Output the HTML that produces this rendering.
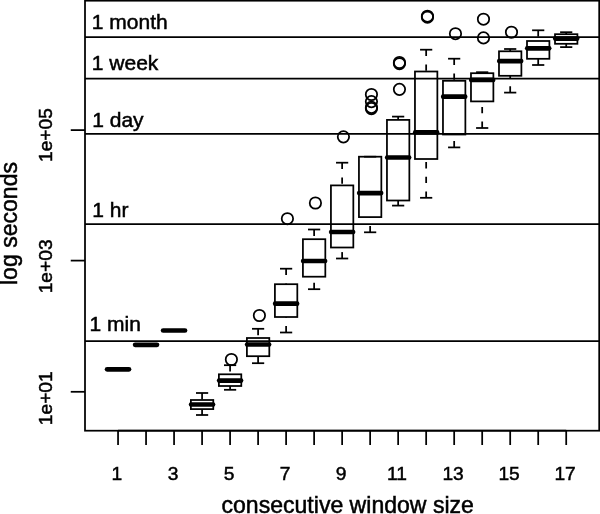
<!DOCTYPE html>
<html><head><meta charset="utf-8"><title>boxplot</title>
<style>html,body{margin:0;padding:0;background:#fff}svg{display:block}</style>
</head><body>
<svg width="600" height="514" viewBox="0 0 600 514">
<rect width="600" height="514" fill="#fff"/>
<g fill="none" stroke="#000" stroke-width="1.75" stroke-linecap="butt">
<rect x="85" y="0.7" width="514.2" height="430.0"/>
<line x1="85" y1="341.0" x2="599.2" y2="341.0"/>
<line x1="85" y1="224.2" x2="599.2" y2="224.2"/>
<line x1="85" y1="133.9" x2="599.2" y2="133.9"/>
<line x1="85" y1="78.5" x2="599.2" y2="78.5"/>
<line x1="85" y1="37.0" x2="599.2" y2="37.0"/>
<line x1="118.05" y1="430.7" x2="566.21" y2="430.7"/>
<line x1="118.05" y1="430.5" x2="118.05" y2="445"/>
<line x1="146.06" y1="430.5" x2="146.06" y2="445"/>
<line x1="174.07" y1="430.5" x2="174.07" y2="445"/>
<line x1="202.08" y1="430.5" x2="202.08" y2="445"/>
<line x1="230.09" y1="430.5" x2="230.09" y2="445"/>
<line x1="258.10" y1="430.5" x2="258.10" y2="445"/>
<line x1="286.11" y1="430.5" x2="286.11" y2="445"/>
<line x1="314.12" y1="430.5" x2="314.12" y2="445"/>
<line x1="342.13" y1="430.5" x2="342.13" y2="445"/>
<line x1="370.14" y1="430.5" x2="370.14" y2="445"/>
<line x1="398.15" y1="430.5" x2="398.15" y2="445"/>
<line x1="426.16" y1="430.5" x2="426.16" y2="445"/>
<line x1="454.17" y1="430.5" x2="454.17" y2="445"/>
<line x1="482.18" y1="430.5" x2="482.18" y2="445"/>
<line x1="510.19" y1="430.5" x2="510.19" y2="445"/>
<line x1="538.20" y1="430.5" x2="538.20" y2="445"/>
<line x1="566.21" y1="430.5" x2="566.21" y2="445"/>
<line x1="70.75" y1="130.1" x2="85" y2="130.1"/>
<line x1="70.75" y1="260.6" x2="85" y2="260.6"/>
<line x1="70.75" y1="391.8" x2="85" y2="391.8"/>
<rect x="190.88" y="400" width="22.4" height="9.100000000000023"/>
<line x1="202.08" y1="393" x2="202.08" y2="400" stroke-dasharray="6.4 8.3"/>
<line x1="202.08" y1="415" x2="202.08" y2="409.1" stroke-dasharray="6.4 8.3"/>
<line x1="195.98" y1="393" x2="208.18" y2="393"/>
<line x1="195.98" y1="415" x2="208.18" y2="415"/>
<rect x="218.89" y="374.3" width="22.4" height="11.699999999999989"/>
<line x1="230.09" y1="365.2" x2="230.09" y2="374.3" stroke-dasharray="6.4 8.3"/>
<line x1="230.09" y1="389.8" x2="230.09" y2="386.0" stroke-dasharray="6.4 8.3"/>
<line x1="223.99" y1="365.2" x2="236.19" y2="365.2"/>
<line x1="223.99" y1="389.8" x2="236.19" y2="389.8"/>
<circle cx="231.39" cy="359.5" r="5.7"/>
<rect x="246.90" y="338" width="22.4" height="18.19999999999999"/>
<line x1="258.10" y1="328.8" x2="258.10" y2="338" stroke-dasharray="6.4 8.3"/>
<line x1="258.10" y1="363.2" x2="258.10" y2="356.2" stroke-dasharray="6.4 8.3"/>
<line x1="252.00" y1="328.8" x2="264.20" y2="328.8"/>
<line x1="252.00" y1="363.2" x2="264.20" y2="363.2"/>
<circle cx="259.40" cy="315.5" r="5.7"/>
<rect x="274.91" y="284.2" width="22.4" height="32.80000000000001"/>
<line x1="286.11" y1="268.7" x2="286.11" y2="284.2" stroke-dasharray="6.4 8.3"/>
<line x1="286.11" y1="332.5" x2="286.11" y2="317" stroke-dasharray="6.4 8.3"/>
<line x1="280.01" y1="268.7" x2="292.21" y2="268.7"/>
<line x1="280.01" y1="332.5" x2="292.21" y2="332.5"/>
<circle cx="287.41" cy="218.7" r="5.7"/>
<rect x="302.92" y="239.2" width="22.4" height="37.5"/>
<line x1="314.12" y1="229.5" x2="314.12" y2="239.2" stroke-dasharray="6.4 8.3"/>
<line x1="314.12" y1="289.2" x2="314.12" y2="276.7" stroke-dasharray="6.4 8.3"/>
<line x1="308.02" y1="229.5" x2="320.22" y2="229.5"/>
<line x1="308.02" y1="289.2" x2="320.22" y2="289.2"/>
<circle cx="315.42" cy="203" r="5.7"/>
<rect x="330.93" y="185.4" width="22.4" height="62.099999999999994"/>
<line x1="342.13" y1="162.7" x2="342.13" y2="185.4" stroke-dasharray="6.4 8.3"/>
<line x1="342.13" y1="258.5" x2="342.13" y2="247.5" stroke-dasharray="6.4 8.3"/>
<line x1="336.03" y1="162.7" x2="348.23" y2="162.7"/>
<line x1="336.03" y1="258.5" x2="348.23" y2="258.5"/>
<circle cx="343.43" cy="136.8" r="5.7"/>
<rect x="358.94" y="156.7" width="22.4" height="60.400000000000006"/>
<line x1="370.14" y1="232.3" x2="370.14" y2="217.1" stroke-dasharray="6.4 8.3"/>
<line x1="364.04" y1="156.7" x2="376.24" y2="156.7"/>
<line x1="364.04" y1="232.3" x2="376.24" y2="232.3"/>
<circle cx="371.44" cy="94.5" r="5.7"/>
<circle cx="371.44" cy="101.6" r="5.7"/>
<circle cx="371.44" cy="107.4" r="5.7"/>
<circle cx="371.44" cy="108.6" r="5.7"/>
<rect x="386.95" y="119.9" width="22.4" height="80.6"/>
<line x1="398.15" y1="116.6" x2="398.15" y2="119.9" stroke-dasharray="6.4 8.3"/>
<line x1="398.15" y1="205.6" x2="398.15" y2="200.5" stroke-dasharray="6.4 8.3"/>
<line x1="392.05" y1="116.6" x2="404.25" y2="116.6"/>
<line x1="392.05" y1="205.6" x2="404.25" y2="205.6"/>
<circle cx="399.45" cy="62.5" r="5.7"/>
<circle cx="399.45" cy="63.7" r="5.7"/>
<circle cx="399.45" cy="89.3" r="5.7"/>
<rect x="414.96" y="71.5" width="22.4" height="87.5"/>
<line x1="426.16" y1="49.7" x2="426.16" y2="71.5" stroke-dasharray="6.4 8.3"/>
<line x1="426.16" y1="197.8" x2="426.16" y2="159.0" stroke-dasharray="6.4 8.3"/>
<line x1="420.06" y1="49.7" x2="432.26" y2="49.7"/>
<line x1="420.06" y1="197.8" x2="432.26" y2="197.8"/>
<circle cx="427.46" cy="16.2" r="5.7"/>
<circle cx="427.46" cy="17.2" r="5.7"/>
<rect x="442.97" y="80.8" width="22.4" height="53.7"/>
<line x1="454.17" y1="58.7" x2="454.17" y2="80.8" stroke-dasharray="6.4 8.3"/>
<line x1="454.17" y1="147.4" x2="454.17" y2="134.5" stroke-dasharray="6.4 8.3"/>
<line x1="448.07" y1="58.7" x2="460.27" y2="58.7"/>
<line x1="448.07" y1="147.4" x2="460.27" y2="147.4"/>
<circle cx="455.47" cy="33.7" r="5.7"/>
<rect x="470.98" y="73.2" width="22.4" height="28.200000000000003"/>
<line x1="482.18" y1="72.2" x2="482.18" y2="73.2" stroke-dasharray="6.4 8.3"/>
<line x1="482.18" y1="128" x2="482.18" y2="101.4" stroke-dasharray="6.4 8.3"/>
<line x1="476.08" y1="72.2" x2="488.28" y2="72.2"/>
<line x1="476.08" y1="128" x2="488.28" y2="128"/>
<circle cx="483.48" cy="19.2" r="5.7"/>
<circle cx="483.48" cy="37.9" r="5.7"/>
<rect x="498.99" y="51.3" width="22.4" height="24.5"/>
<line x1="510.19" y1="49" x2="510.19" y2="51.3" stroke-dasharray="6.4 8.3"/>
<line x1="510.19" y1="92.6" x2="510.19" y2="75.8" stroke-dasharray="6.4 8.3"/>
<line x1="504.09" y1="49" x2="516.29" y2="49"/>
<line x1="504.09" y1="92.6" x2="516.29" y2="92.6"/>
<circle cx="511.49" cy="32.2" r="5.7"/>
<rect x="527.00" y="41.0" width="22.4" height="17.799999999999997"/>
<line x1="538.20" y1="30.3" x2="538.20" y2="41.0" stroke-dasharray="6.4 8.3"/>
<line x1="538.20" y1="65.0" x2="538.20" y2="58.8" stroke-dasharray="6.4 8.3"/>
<line x1="532.10" y1="30.3" x2="544.30" y2="30.3"/>
<line x1="532.10" y1="65.0" x2="544.30" y2="65.0"/>
<rect x="555.01" y="34.2" width="22.4" height="9.599999999999994"/>
<line x1="566.21" y1="32.2" x2="566.21" y2="34.2" stroke-dasharray="6.4 8.3"/>
<line x1="566.21" y1="47.1" x2="566.21" y2="43.8" stroke-dasharray="6.4 8.3"/>
<line x1="560.11" y1="32.2" x2="572.31" y2="32.2"/>
<line x1="560.11" y1="47.1" x2="572.31" y2="47.1"/>
</g>
<g fill="none" stroke="#000" stroke-width="4.7" stroke-linecap="round">
<line x1="107.10" y1="369.3" x2="129.00" y2="369.3"/>
<line x1="135.11" y1="344.8" x2="157.01" y2="344.8"/>
<line x1="163.12" y1="330.5" x2="185.02" y2="330.5"/>
<line x1="191.13" y1="404.5" x2="213.03" y2="404.5"/>
<line x1="219.14" y1="380.6" x2="241.04" y2="380.6"/>
<line x1="247.15" y1="344.5" x2="269.05" y2="344.5"/>
<line x1="275.16" y1="303.7" x2="297.06" y2="303.7"/>
<line x1="303.17" y1="261" x2="325.07" y2="261"/>
<line x1="331.18" y1="232" x2="353.08" y2="232"/>
<line x1="359.19" y1="193.1" x2="381.09" y2="193.1"/>
<line x1="387.20" y1="157.5" x2="409.10" y2="157.5"/>
<line x1="415.21" y1="132.4" x2="437.11" y2="132.4"/>
<line x1="443.22" y1="96.7" x2="465.12" y2="96.7"/>
<line x1="471.23" y1="79.9" x2="493.13" y2="79.9"/>
<line x1="499.24" y1="61.1" x2="521.14" y2="61.1"/>
<line x1="527.25" y1="48.3" x2="549.15" y2="48.3"/>
<line x1="555.26" y1="38.6" x2="577.16" y2="38.6"/>
</g>
<g font-family="'Liberation Sans', Arial, Helvetica, sans-serif" fill="#000" stroke="#000" stroke-width="0.5" font-size="21">
<text x="89.5" y="331.3">1 min</text>
<text x="92.2" y="217.1">1 hr</text>
<text x="92.2" y="126.7">1 day</text>
<text x="91.8" y="70.4">1 week</text>
<text x="91.8" y="29.4">1 month</text>
</g>
<g font-family="'Liberation Sans', Arial, Helvetica, sans-serif" fill="#000" stroke="#000" stroke-width="0.5" font-size="19.2">
<text x="116.95" y="480.4" text-anchor="middle">1</text>
<text x="172.97" y="480.4" text-anchor="middle">3</text>
<text x="228.99" y="480.4" text-anchor="middle">5</text>
<text x="285.01" y="480.4" text-anchor="middle">7</text>
<text x="341.03" y="480.4" text-anchor="middle">9</text>
<text x="397.05" y="480.4" text-anchor="middle">11</text>
<text x="453.07" y="480.4" text-anchor="middle">13</text>
<text x="509.09" y="480.4" text-anchor="middle">15</text>
<text x="565.11" y="480.4" text-anchor="middle">17</text>
<text transform="translate(52.0,162) rotate(-90)">1e+05</text>
<text transform="translate(52.0,293.3) rotate(-90)">1e+03</text>
<text transform="translate(52.0,425.2) rotate(-90)">1e+01</text>
</g>
<g font-family="'Liberation Sans', Arial, Helvetica, sans-serif" fill="#000" stroke="#000" stroke-width="0.5" font-size="23.05">
<text x="347.7" y="513.3" text-anchor="middle">consecutive window size</text>
<text transform="translate(17.3,223.5) rotate(-90)" text-anchor="middle">log seconds</text>
</g>
</svg>
</body></html>
